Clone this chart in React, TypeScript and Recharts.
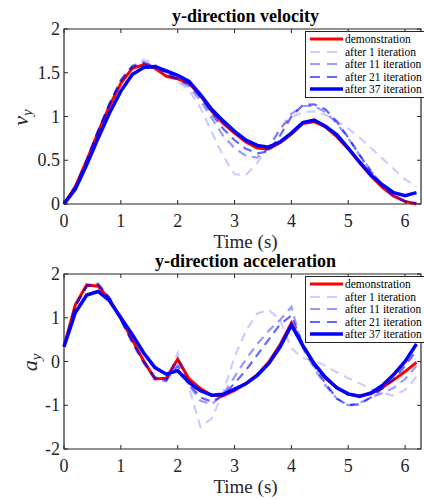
import { Label, Line, LineChart, ReferenceArea, XAxis, YAxis } from "recharts";

const time = [
  0, 0.2, 0.4, 0.6, 0.8, 1.0, 1.2, 1.4, 1.6, 1.8, 2.0, 2.2, 2.4, 2.6, 2.8, 3.0,
  3.2, 3.4, 3.6, 3.8, 4.0, 4.2, 4.4, 4.6, 4.8, 5.0, 5.2, 5.4, 5.6, 5.8, 6.0, 6.2,
];
const xTicks = [0, 1, 2, 3, 4, 5, 6];
const velTicks = [0, 0.5, 1, 1.5, 2];
const accTicks = [-2, -1, 0, 1, 2];

const seriesNames = [
  "demonstration",
  "after 1 iteration",
  "after 11 iteration",
  "after 21 iteration",
  "after 37 iteration",
];

// velocity
const vDemo = [0, 0.2, 0.5, 0.82, 1.12, 1.38, 1.55, 1.59, 1.55, 1.46, 1.43, 1.38, 1.24, 1.06, 0.92, 0.81, 0.71, 0.64, 0.63, 0.7, 0.8, 0.92, 0.94, 0.88, 0.77, 0.63, 0.47, 0.32, 0.19, 0.09, 0.03, 0.0];
const vIt1 = [0, 0.19, 0.48, 0.82, 1.14, 1.4, 1.57, 1.65, 1.6, 1.49, 1.4, 1.3, 1.1, 0.82, 0.55, 0.34, 0.33, 0.47, 0.66, 0.86, 0.99, 1.05, 1.06, 1.02, 0.95, 0.86, 0.76, 0.64, 0.52, 0.4, 0.28, 0.2];
const vIt11 = [0, 0.2, 0.5, 0.84, 1.15, 1.42, 1.58, 1.62, 1.57, 1.49, 1.42, 1.34, 1.18, 0.98, 0.78, 0.64, 0.55, 0.53, 0.64, 0.85, 1.03, 1.12, 1.12, 1.05, 0.92, 0.75, 0.56, 0.38, 0.22, 0.1, 0.03, 0.0];
const vIt21 = [0, 0.2, 0.5, 0.83, 1.14, 1.41, 1.57, 1.61, 1.57, 1.5, 1.43, 1.37, 1.22, 1.03, 0.86, 0.73, 0.63, 0.58, 0.6, 0.78, 1.0, 1.13, 1.14, 1.08, 0.94, 0.76, 0.56, 0.37, 0.21, 0.09, 0.03, 0.01];
const vIt37 = [0, 0.17, 0.45, 0.75, 1.04, 1.29, 1.48, 1.56, 1.57, 1.52, 1.47, 1.4, 1.25, 1.08, 0.95, 0.83, 0.73, 0.67, 0.65, 0.71, 0.81, 0.93, 0.96, 0.89, 0.79, 0.64, 0.48, 0.33, 0.22, 0.13, 0.095, 0.13];

// acceleration
const aDemo = [0.34, 1.3, 1.75, 1.72, 1.42, 0.98, 0.5, 0.02, -0.4, -0.38, 0.05, -0.4, -0.62, -0.77, -0.78, -0.66, -0.5, -0.3, -0.02, 0.38, 0.88, 0.36, -0.05, -0.38, -0.6, -0.75, -0.78, -0.74, -0.6, -0.42, -0.23, -0.02];
const aIt1 = [0.34, 1.25, 1.72, 1.78, 1.45, 0.95, 0.42, -0.05, -0.4, -0.45, 0.2, -0.6, -1.5, -1.3, -0.7, 0.1, 0.7, 1.1, 1.18, 0.95, 0.3, 0.08, 0.02, -0.1, -0.25, -0.38, -0.5, -0.62, -0.72, -0.78, -0.65, -0.35];
const aIt11 = [0.34, 1.27, 1.73, 1.78, 1.46, 0.96, 0.44, -0.02, -0.38, -0.45, 0.05, -0.55, -0.9, -0.98, -0.75, -0.35, 0.05, 0.4, 0.7, 0.95, 1.25, 0.3, -0.15, -0.55, -0.85, -1.0, -0.95, -0.82, -0.72, -0.6, -0.4, -0.1];
const aIt21 = [0.34, 1.26, 1.72, 1.76, 1.45, 0.96, 0.45, 0.0, -0.36, -0.42, -0.1, -0.5, -0.82, -0.92, -0.78, -0.5, -0.2, 0.15, 0.5, 0.85, 1.05, 0.4, -0.1, -0.5, -0.85, -1.0, -0.98, -0.82, -0.62, -0.4, -0.1, 0.25];
const aIt37 = [0.34, 1.12, 1.52, 1.6, 1.39, 1.0, 0.62, 0.2, -0.14, -0.29, -0.21, -0.48, -0.67, -0.77, -0.75, -0.63, -0.51, -0.32, -0.05, 0.33, 0.83, 0.37, -0.05, -0.36, -0.6, -0.74, -0.8, -0.72, -0.55, -0.3, 0.0, 0.4];

const FONT = "'Liberation Serif', 'Times New Roman', serif";
const AXIS = "#262626";
const W = 424;
const H = 254;
const TOP = 29;
const BOTTOM = 204;
const LEFT = 64;
const RIGHT = 421;
const X_MAX = 6.28;
const MID = (LEFT + RIGHT) / 2 + 3;

const styles = [
  { stroke: "#ff0000", opacity: 1, width: 3, dash: undefined },
  { stroke: "#0000ff", opacity: 0.2, width: 2.2, dash: "9 6" },
  { stroke: "#0000ff", opacity: 0.4, width: 2.2, dash: "9 6" },
  { stroke: "#0000ff", opacity: 0.6, width: 2.2, dash: "9 6" },
  { stroke: "#0000ff", opacity: 1, width: 3.5, dash: undefined },
];

const keys = ["demo", "it1", "it11", "it21", "it37"];

function buildRows(series: number[][]) {
  return time.map((t, i) => {
    const row: Record<string, number> = { t };
    keys.forEach((k, j) => (row[k] = series[j][i]));
    return row;
  });
}

const velRows = buildRows([vDemo, vIt1, vIt11, vIt21, vIt37]);
const accRows = buildRows([aDemo, aIt1, aIt11, aIt21, aIt37]);

function XTick(props: any) {
  const { x, payload } = props;
  return (
    <g>
      <line x1={x} x2={x} y1={BOTTOM} y2={BOTTOM - 4} stroke={AXIS} />
      <line x1={x} x2={x} y1={TOP} y2={TOP + 4} stroke={AXIS} />
      <text x={x} y={BOTTOM + 23} textAnchor="middle" fontFamily={FONT} fontSize={18} fill={AXIS}>
        {payload.value}
      </text>
    </g>
  );
}

function YTick(props: any) {
  const { y, payload } = props;
  return (
    <g>
      <line x1={LEFT} x2={LEFT + 4} y1={y} y2={y} stroke={AXIS} />
      <line x1={RIGHT} x2={RIGHT - 4} y1={y} y2={y} stroke={AXIS} />
      <text x={LEFT - 4} y={y + 6} textAnchor="end" fontFamily={FONT} fontSize={18} fill={AXIS}>
        {payload.value}
      </text>
    </g>
  );
}

function renderTimeLabel(props: any) {
  const { viewBox } = props;
  return (
    <text x={MID} y={viewBox.y + 44} textAnchor="middle" fontFamily={FONT} fontSize={19} fill={AXIS}>
      Time (s)
    </text>
  );
}

function symbolLabel(letter: string, x: number) {
  return function SymbolLabel(props: any) {
    const { viewBox } = props;
    const cy = viewBox.y + viewBox.height / 2 + 1;
    return (
      <text
        x={x}
        y={cy}
        transform={`rotate(-90, ${x}, ${cy})`}
        textAnchor="middle"
        fontFamily={FONT}
        fontStyle="italic"
        fontSize={22}
        fill={AXIS}
      >
        {letter}
        <tspan fontSize={15} dy={4}>y</tspan>
      </text>
    );
  };
}

function titleLabel(text: string) {
  return function Title() {
    return (
      <text x={MID} y={21.5} textAnchor="middle" fontFamily={FONT} fontWeight="bold" fontSize={18} fill="#000">
        {text}
      </text>
    );
  };
}

function LegendBox({ top }: { top: number }) {
  return (
    <div
      style={{
        position: "absolute",
        left: 305,
        top,
        border: `1px solid ${AXIS}`,
        background: "#fff",
        width: 130,
        padding: "1px 0",
        fontFamily: FONT,
        fontSize: 11.5,
        color: "#000",
      }}
    >
      {seriesNames.map((name, i) => (
        <div key={name} style={{ display: "flex", alignItems: "center", height: 12.5, whiteSpace: "nowrap" }}>
          <svg width={39} height={12} style={{ flex: "none" }}>
            <line
              x1={4}
              x2={37}
              y1={6}
              y2={6}
              stroke={styles[i].stroke}
              strokeOpacity={styles[i].opacity}
              strokeWidth={styles[i].width}
              strokeDasharray={styles[i].dash ? "10 7" : undefined}
            />
          </svg>
          <span style={{ lineHeight: "12px", height: 12 }}>{name}</span>
        </div>
      ))}
    </div>
  );
}

function Panel({
  rows,
  yTicks,
  yDomain,
  title,
  symbol,
  symbolX,
}: {
  rows: Record<string, number>[];
  yTicks: number[];
  yDomain: [number, number];
  title: string;
  symbol: string;
  symbolX: number;
}) {
  return (
    <LineChart width={W} height={H} data={rows} margin={{ top: TOP, right: W - RIGHT, bottom: 0, left: 0 }}>
      <ReferenceArea
        x1={0}
        x2={X_MAX}
        y1={yDomain[0]}
        y2={yDomain[1]}
        fill="none"
        stroke={AXIS}
        strokeWidth={1.2}
        label={titleLabel(title)}
      />
      <XAxis
        dataKey="t"
        type="number"
        domain={[0, X_MAX]}
        ticks={xTicks}
        height={H - BOTTOM}
        axisLine={false}
        tickLine={false}
        tick={<XTick />}
        interval={0}
      >
        <Label content={renderTimeLabel} />
      </XAxis>
      <YAxis
        type="number"
        domain={yDomain}
        ticks={yTicks}
        width={LEFT}
        axisLine={false}
        tickLine={false}
        tick={<YTick />}
        interval={0}
      >
        <Label content={symbolLabel(symbol, symbolX)} />
      </YAxis>
      {keys.map((k, i) => (
        <Line
          key={k}
          type="linear"
          dataKey={k}
          name={seriesNames[i]}
          stroke={styles[i].stroke}
          strokeOpacity={styles[i].opacity}
          strokeWidth={styles[i].width}
          strokeDasharray={styles[i].dash}
          dot={false}
          activeDot={false}
          isAnimationActive={false}
        />
      ))}
    </LineChart>
  );
}

export default function App() {
  return (
    <div style={{ position: "absolute", left: 0, top: 0, width: W, height: 499, overflow: "hidden", background: "#fff" }}>
      <div style={{ position: "absolute", left: 0, top: 0 }}>
        <Panel rows={velRows} yTicks={velTicks} yDomain={[0, 2]} title="y-direction velocity" symbol="v" symbolX={28} />
      </div>
      <div style={{ position: "absolute", left: 0, top: 245 }}>
        <Panel rows={accRows} yTicks={accTicks} yDomain={[-2, 2]} title="y-direction acceleration" symbol="a" symbolX={37} />
      </div>
      <LegendBox top={31} />
      <LegendBox top={276} />
    </div>
  );
}
